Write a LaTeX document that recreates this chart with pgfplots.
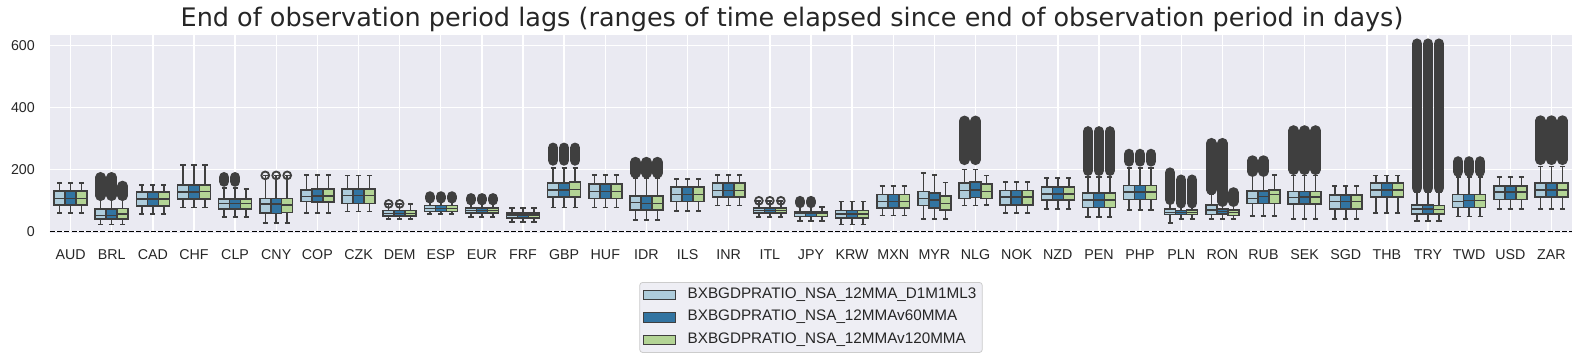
\documentclass[border=0pt]{standalone}
\usepackage{fontspec}
\setmainfont{Liberation Sans}
\newfontfamily\titlefont{DejaVu Sans}
\usepackage{pgfplots}
\pgfplotsset{compat=1.18}
\usepgfplotslibrary{statistics}
\definecolor{bg}{HTML}{EAEAF2}
\definecolor{lgbg}{HTML}{EEEEF4}
\definecolor{lgd}{HTML}{CCCCCC}
\definecolor{ca}{HTML}{AECCDB}
\definecolor{cb}{HTML}{3274A1}
\definecolor{cc}{HTML}{B3D495}
\definecolor{eg}{HTML}{3F3F3F}
\definecolor{txt}{HTML}{262626}
\newcommand{\bx}[7]{\addplot[boxplot prepared={draw position=#1, lower whisker=#2, lower quartile=#3, median=#4, upper quartile=#5, upper whisker=#6}, fill=#7, draw=eg, line width=1.5bp, forget plot] coordinates {};}
\newcommand{\fl}[3]{\addplot[draw=eg, line width=10.5bp, line cap=round, forget plot] coordinates {(#1,#2) (#1,#3)};}
\newcommand{\rg}[2]{\addplot[only marks, mark=o, mark size=3.9bp, mark options={draw=eg, line width=1.8bp, fill=none}, forget plot] coordinates {(#1,#2)};}
\pgfplotsset{boxplot/draw direction=y, boxplot/box extend=0.267, boxplot/whisker extend=0.125}
\begin{document}
\begin{tikzpicture}
\useasboundingbox (-50bp,-129.3bp) rectangle (1534bp,232.7bp);
\begin{axis}[name=ax, at={(0,0)}, anchor=south west,
 scale only axis, width=1522bp, height=197.7bp,
 xmin=-0.5, xmax=36.5, ymin=-4, ymax=634,
 axis background/.style={fill=bg},
 axis line style={draw=none},
 major tick length=0pt,
 xtick={0,...,36},
 xticklabels={AUD,BRL,CAD,CHF,CLP,CNY,COP,CZK,DEM,ESP,EUR,FRF,GBP,HUF,IDR,ILS,INR,ITL,JPY,KRW,MXN,MYR,NLG,NOK,NZD,PEN,PHP,PLN,RON,RUB,SEK,SGD,THB,TRY,TWD,USD,ZAR},
 ytick={0,200,400,600},
 grid=major, major grid style={white, line width=1.4bp},
 tick label style={font=\fontsize{14.3}{17}\selectfont, text=txt},
 xticklabel style={anchor=base, yshift=-26.3bp, inner sep=0pt},
 yticklabel style={anchor=east, xshift=-15bp, inner sep=0pt},
 /pgf/number format/assume math mode=true,
 legend style={at={(0.5,-0.2494)}, anchor=north, fill=lgbg, draw=lgd, rounded corners=3bp, line width=0.8bp, font=\fontsize{15.3}{18}\selectfont, text=txt, inner xsep=2.5bp, inner ysep=1bp, row sep=0pt, nodes={inner xsep=3.5bp, inner ysep=3.85bp, text height=11bp, text depth=4bp}},
 legend cell align=left,
 legend image code/.code={\draw[#1, sharp corners] (1bp,-4.6bp) rectangle (33bp,4.6bp); \path[draw=none, fill=none] (0bp,0bp) -- (42bp,0bp);},
]
\addlegendimage{fill=ca, draw=eg, line width=1bp}
\addlegendentry{BXBGDPRATIO\_NSA\_12MMA\_D1M1ML3}
\addlegendimage{fill=cb, draw=eg, line width=1bp}
\addlegendentry{BXBGDPRATIO\_NSA\_12MMAv60MMA}
\addlegendimage{fill=cc, draw=eg, line width=1bp}
\addlegendentry{BXBGDPRATIO\_NSA\_12MMAv120MMA}
\addplot[black, line width=1.3bp, dash pattern=on 5bp off 2.2bp, forget plot] coordinates {(-0.5,0) (36.5,0)};
% AUD
\bx{-0.267}{60}{85}{106}{130}{156}{ca}
\bx{0}{60}{85}{106}{130}{156}{cb}
\bx{0.267}{60}{85}{106}{130}{156}{cc}
% BRL
\bx{0.733}{22}{41}{52}{72}{110}{ca}
\bx{1}{22}{41}{52}{72}{110}{cb}
\bx{1.267}{22}{41}{56}{74}{108}{cc}
\fl{0.733}{115}{175}\fl{1}{115}{175}\fl{1.267}{115}{147}
% CAD
\bx{1.733}{57}{82}{104}{127}{150}{ca}
\bx{2}{57}{82}{104}{127}{150}{cb}
\bx{2.267}{57}{82}{104}{127}{150}{cc}
% CHF
\bx{2.733}{78}{104}{127}{150}{215}{ca}
\bx{3}{78}{104}{127}{150}{215}{cb}
\bx{3.267}{78}{104}{129}{150}{215}{cc}
% CLP
\bx{3.733}{46}{73}{91}{104}{140}{ca}
\bx{4}{46}{73}{91}{104}{140}{cb}
\bx{4.267}{46}{73}{91}{104}{137}{cc}
\fl{3.733}{161}{175}\fl{4}{161}{175}
% CNY
\bx{4.733}{28}{60}{88}{107}{181}{ca}
\bx{5}{28}{58}{88}{107}{181}{cb}
\bx{5.267}{28}{61}{86}{107}{181}{cc}
\rg{4.733}{181}\rg{5}{181}\rg{5.267}{181}
% COP
\bx{5.733}{60}{97}{113}{134}{183}{ca}
\bx{6}{60}{95}{115}{137}{183}{cb}
\bx{6.267}{60}{95}{115}{137}{183}{cc}
% CZK
\bx{6.733}{64}{91}{116}{137}{180}{ca}
\bx{7}{64}{91}{116}{137}{180}{cb}
\bx{7.267}{64}{91}{116}{137}{180}{cc}
% DEM
\bx{7.733}{40}{50}{58}{67}{89}{ca}
\bx{8}{40}{50}{58}{67}{89}{cb}
\bx{8.267}{40}{50}{58}{67}{89}{cc}
\rg{7.733}{89}\rg{8}{89}
% ESP
\bx{8.733}{57}{65}{74}{83}{100}{ca}
\bx{9}{57}{65}{74}{83}{100}{cb}
\bx{9.267}{57}{65}{74}{83}{100}{cc}
\fl{8.733}{107}{113}\fl{9}{107}{113}\fl{9.267}{107}{113}
% EUR
\bx{9.733}{46}{59}{68}{76}{95}{ca}
\bx{10}{46}{59}{68}{76}{95}{cb}
\bx{10.267}{46}{59}{68}{76}{95}{cc}
\fl{9.733}{101}{107}\fl{10}{101}{107}\fl{10.267}{101}{107}
% FRF
\bx{10.733}{30}{43}{53}{60}{75}{ca}
\bx{11}{30}{43}{53}{60}{75}{cb}
\bx{11.267}{30}{43}{53}{60}{75}{cc}
% GBP
\bx{11.733}{78}{111}{133}{156}{205}{ca}
\bx{12}{78}{111}{133}{156}{205}{cb}
\bx{12.267}{78}{111}{135}{159}{205}{cc}
\fl{11.733}{229}{270}\fl{12}{229}{270}\fl{12.267}{229}{270}
% HUF
\bx{12.733}{78}{107}{129}{153}{183}{ca}
\bx{13}{78}{107}{129}{153}{183}{cb}
\bx{13.267}{78}{107}{129}{153}{183}{cc}
% IDR
\bx{13.733}{37}{69}{93}{115}{172}{ca}
\bx{14}{37}{69}{91}{115}{172}{cb}
\bx{14.267}{37}{69}{91}{115}{172}{cc}
\fl{13.733}{188}{224}\fl{14}{188}{224}\fl{14.267}{188}{224}
% ILS
\bx{14.733}{66}{96}{120}{143}{169}{ca}
\bx{15}{66}{96}{120}{143}{169}{cb}
\bx{15.267}{66}{96}{120}{143}{169}{cc}
% INR
\bx{15.733}{83}{111}{132}{156}{183}{ca}
\bx{16}{83}{111}{132}{156}{183}{cb}
\bx{16.267}{83}{111}{132}{156}{183}{cc}
% ITL
\bx{16.733}{46}{59}{68}{75}{99}{ca}
\bx{17}{46}{59}{68}{75}{99}{cb}
\bx{17.267}{46}{59}{68}{75}{99}{cc}
\rg{16.733}{99}\rg{17}{99}\rg{17.267}{99}
% JPY
\bx{17.733}{34}{48}{58}{63}{90}{ca}
\bx{18}{34}{48}{58}{63}{90}{cb}
\bx{18.267}{34}{48}{58}{63}{79}{cc}
\fl{17.733}{92}{98}\fl{18}{92}{98}
% KRW
\bx{18.733}{22}{43}{57}{68}{97}{ca}
\bx{19}{22}{43}{57}{68}{97}{cb}
\bx{19.267}{22}{43}{57}{68}{97}{cc}
% MXN
\bx{19.733}{51}{75}{97}{120}{147}{ca}
\bx{20}{51}{75}{97}{120}{147}{cb}
\bx{20.267}{51}{75}{97}{120}{147}{cc}
% MYR
\bx{20.733}{40}{83}{107}{129}{188}{ca}
\bx{21}{40}{75}{102}{124}{182}{cb}
\bx{21.267}{40}{70}{91}{115}{158}{cc}
% NLG
\bx{21.733}{83}{107}{132}{156}{200}{ca}
\bx{22}{83}{110}{134}{159}{200}{cb}
\bx{22.267}{86}{107}{129}{153}{180}{cc}
\fl{21.733}{231}{357}\fl{22}{231}{357}
% NOK
\bx{22.733}{59}{86}{111}{132}{159}{ca}
\bx{23}{59}{86}{111}{132}{159}{cb}
\bx{23.267}{59}{86}{111}{132}{159}{cc}
% NZD
\bx{23.733}{72}{102}{121}{143}{172}{ca}
\bx{24}{72}{102}{121}{143}{172}{cb}
\bx{24.267}{72}{102}{121}{143}{172}{cc}
% PEN
\bx{24.733}{46}{78}{102}{124}{175}{ca}
\bx{25}{46}{78}{102}{124}{175}{cb}
\bx{25.267}{46}{78}{102}{124}{175}{cc}
\fl{24.733}{196}{323}\fl{25}{196}{323}\fl{25.267}{196}{323}
% PHP
\bx{25.733}{70}{103}{127}{149}{205}{ca}
\bx{26}{70}{103}{127}{149}{205}{cb}
\bx{26.267}{70}{103}{127}{149}{205}{cc}
\fl{25.733}{226}{250}\fl{26}{226}{250}\fl{26.267}{226}{250}
% PLN
\bx{26.733}{28}{54}{62}{72}{90}{ca}
\bx{27}{41}{54}{61}{68}{80}{cb}
\bx{27.267}{41}{54}{61}{70}{80}{cc}
\fl{26.733}{102}{190}\fl{27}{91}{167}\fl{27.267}{91}{167}
% RON
\bx{27.733}{41}{54}{70}{86}{120}{ca}
\bx{28}{41}{57}{64}{73}{85}{cb}
\bx{28.267}{41}{52}{61}{69}{85}{cc}
\fl{27.733}{134}{285}\fl{28}{96}{285}\fl{28.267}{96}{126}
% RUB
\bx{28.733}{50}{91}{107}{131}{180}{ca}
\bx{29}{50}{91}{113}{131}{180}{cb}
\bx{29.267}{50}{91}{120}{134}{183}{cc}
\fl{28.733}{193}{229}\fl{29}{193}{229}
% SEK
\bx{29.733}{41}{88}{109}{129}{180}{ca}
\bx{30}{41}{88}{111}{129}{180}{cb}
\bx{30.267}{41}{88}{111}{129}{180}{cc}
\fl{29.733}{199}{326}\fl{30}{199}{326}\fl{30.267}{199}{326}
% SGD
\bx{30.733}{40}{72}{97}{118}{147}{ca}
\bx{31}{40}{72}{97}{118}{147}{cb}
\bx{31.267}{40}{72}{97}{118}{147}{cc}
% THB
\bx{31.733}{59}{111}{134}{156}{181}{ca}
\bx{32}{59}{111}{134}{156}{181}{cb}
\bx{32.267}{59}{111}{134}{156}{181}{cc}
% TRY
\bx{32.733}{34}{57}{73}{86}{125}{ca}
\bx{33}{34}{57}{73}{86}{125}{cb}
\bx{33.267}{34}{57}{71}{84}{125}{cc}
\fl{32.733}{140}{606}\fl{33}{140}{606}\fl{33.267}{140}{606}
% TWD
\bx{33.733}{48}{77}{97}{120}{175}{ca}
\bx{34}{48}{77}{100}{120}{175}{cb}
\bx{34.267}{48}{77}{100}{120}{175}{cc}
\fl{33.733}{193}{226}\fl{34}{193}{226}\fl{34.267}{193}{226}
% USD
\bx{34.733}{73}{103}{127}{147}{175}{ca}
\bx{35}{73}{103}{127}{147}{175}{cb}
\bx{35.267}{73}{103}{127}{147}{175}{cc}
% ZAR
\bx{35.733}{73}{111}{134}{156}{210}{ca}
\bx{36}{73}{111}{134}{156}{210}{cb}
\bx{36.267}{73}{111}{134}{156}{210}{cc}
\fl{35.733}{231}{358}\fl{36}{231}{358}\fl{36.267}{231}{358}
\end{axis}
\node[anchor=base, font=\titlefont\fontsize{25.6}{30}\selectfont, text=txt, inner sep=0pt] at (742bp,206.2bp) {End of observation period lags (ranges of time elapsed since end of observation period in days)};
\end{tikzpicture}
\end{document}
